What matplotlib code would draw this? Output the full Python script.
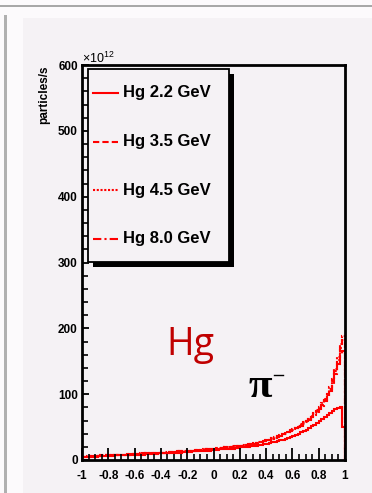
import matplotlib.pyplot as plt
import numpy as np
from matplotlib.lines import Line2D
from matplotlib.patches import Rectangle
from matplotlib.ticker import MultipleLocator

plt.rcParams["font.family"] = ["Liberation Sans", "DejaVu Sans"]
plt.rcParams["mathtext.fontset"] = "custom"
plt.rcParams["mathtext.rm"] = "Liberation Sans"

W, H = 372, 493
PANEL = "#f5f2f5"

# cos(theta) bins, 0.02 wide
edges = np.linspace(-1.0, 1.0, 101)

# pi- rates per bin (x10^12 particles/s)
hg_22 = [4, 5, 5, 5, 5, 5, 6, 6, 6, 6,
         6, 6, 7, 7, 7, 7, 7, 7, 8, 8,
         8, 8, 8, 8, 9, 9, 9, 9, 9, 10,
         10, 10, 10, 10, 11, 11, 11, 11, 12, 12,
         12, 12, 13, 13, 13, 13, 14, 14, 14, 15,
         15, 15, 16, 16, 16, 17, 17, 17, 18, 18,
         19, 19, 20, 20, 21, 21, 22, 23, 23, 24,
         25, 26, 27, 28, 29, 30, 31, 32, 34, 35,
         37, 38, 40, 42, 44, 46, 48, 51, 53, 56,
         59, 62, 65, 68, 71, 74, 77, 79, 81, 50]
hg_35 = [5, 5, 5, 6, 6, 6, 6, 6, 7, 7,
         7, 7, 7, 7, 8, 8, 8, 8, 8, 9,
         9, 9, 9, 9, 10, 10, 10, 10, 10, 11,
         11, 11, 11, 12, 12, 12, 12, 13, 13, 13,
         13, 14, 14, 14, 15, 15, 15, 16, 16, 16,
         17, 17, 18, 18, 19, 19, 20, 20, 21, 21,
         22, 22, 23, 24, 25, 25, 26, 27, 28, 29,
         30, 31, 33, 34, 36, 37, 39, 41, 43, 45,
         46, 48, 50, 53, 56, 59, 62, 66, 70, 74,
         78, 84, 91, 99, 108, 120, 135, 152, 170, 182]
hg_45 = [5, 5, 6, 6, 6, 6, 7, 6, 7, 7,
         7, 7, 8, 7, 8, 8, 8, 9, 8, 9,
         9, 9, 10, 9, 10, 10, 10, 11, 10, 11,
         11, 12, 11, 12, 12, 12, 13, 13, 13, 14,
         14, 14, 14, 15, 15, 15, 16, 16, 16, 17,
         17, 18, 18, 18, 19, 20, 20, 21, 21, 22,
         22, 23, 23, 24, 25, 26, 26, 27, 28, 30,
         30, 32, 33, 35, 36, 38, 39, 42, 43, 46,
         47, 49, 51, 54, 57, 60, 63, 67, 71, 76,
         80, 86, 93, 101, 111, 123, 138, 156, 176, 188]
hg_80 = [5, 5, 5, 6, 6, 6, 6, 7, 7, 7,
         7, 7, 7, 8, 8, 8, 8, 8, 9, 9,
         9, 9, 9, 10, 10, 10, 10, 10, 11, 11,
         11, 11, 12, 12, 12, 12, 13, 13, 13, 13,
         14, 14, 14, 15, 15, 15, 16, 16, 16, 17,
         17, 17, 18, 18, 19, 19, 20, 20, 21, 22,
         22, 23, 23, 24, 24, 25, 26, 27, 28, 29,
         30, 31, 32, 34, 35, 37, 38, 40, 42, 44,
         46, 48, 50, 52, 55, 58, 61, 65, 69, 73,
         77, 82, 89, 96, 105, 116, 130, 146, 160, 165]

series = [
    ("Hg 2.2 GeV", hg_22, "-"),
    ("Hg 3.5 GeV", hg_35, (0, (3, 1.5))),
    ("Hg 4.5 GeV", hg_45, (0, (1, 0.8))),
    ("Hg 8.0 GeV", hg_80, (0, (4, 1.5, 1, 1.5))),
]
xticklabels = ["-1", "-0.8", "-0.6", "-0.4", "-0.2", "0", "0.2", "0.4",
               "0.6", "0.8", "1"]


def fx(px):
    return px / W


def fy(py):
    return 1 - py / H


fig = plt.figure(figsize=(W / 100, H / 100), dpi=100, facecolor=PANEL)

# slide frame: white margins and grey rules
fig.patches.append(Rectangle((0, fy(18)), 1, 1, transform=fig.transFigure,
                             facecolor="#fcfafc", edgecolor="none", zorder=0))
fig.patches.append(Rectangle((0, 0), fx(23), 1, transform=fig.transFigure,
                             facecolor="#fcfafc", edgecolor="none", zorder=0))
fig.patches.append(Rectangle((0, fy(7)), 1, 2.5 / H, transform=fig.transFigure,
                             facecolor="#a8a8a8", edgecolor="none", zorder=1))
fig.patches.append(Rectangle((fx(4), 0), 2.5 / W, fy(15), transform=fig.transFigure,
                             facecolor="#b0b0b0", edgecolor="none", zorder=1))

ax = fig.add_axes([fx(82), fy(460), fx(345) - fx(82), fy(65) - fy(460)])
ax.set_facecolor(PANEL)

for label, vals, ls in series:
    ax.stairs(vals, edges, color="red", lw=1.5, linestyle=ls)

ax.set_xlim(-1, 1)
ax.set_ylim(0, 600)
ax.set_xticks(np.round(np.arange(-1, 1.01, 0.2), 1))
ax.set_xticklabels(xticklabels, fontweight="bold")
ax.xaxis.set_minor_locator(MultipleLocator(0.05))
ax.yaxis.set_major_locator(MultipleLocator(100))
ax.yaxis.set_minor_locator(MultipleLocator(20))
for t in ax.get_yticklabels():
    t.set_fontweight("bold")
ax.tick_params(axis="x", which="major", direction="in", length=9, width=1.3,
               labelsize=8.5, pad=7)
ax.tick_params(axis="x", which="minor", direction="in", length=4.5, width=1.2)
ax.tick_params(axis="y", which="major", direction="in", length=5, width=1.3,
               labelsize=8.5, pad=3)
ax.tick_params(axis="y", which="minor", direction="in", length=4, width=1.2)
for s in ax.spines.values():
    s.set_linewidth(2)

fig.text(fx(82), fy(58), r"$\mathregular{\times10^{12}}$", fontsize=9,
         ha="left", va="center")
fig.text(fx(44), fy(95), "particles/s", rotation=90, fontsize=8.5,
         fontweight="bold", ha="center", va="center")

# legend box with drop shadow
lx0, lx1, ly0, ly1 = 88, 229, 69, 262
fig.patches.append(Rectangle((fx(lx0 + 5), fy(ly1 + 5)), fx(lx1 - lx0), fy(ly0) - fy(ly1),
                             transform=fig.transFigure, facecolor="black",
                             edgecolor="none", zorder=5))
fig.patches.append(Rectangle((fx(lx0), fy(ly1)), fx(lx1 - lx0), fy(ly0) - fy(ly1),
                             transform=fig.transFigure, facecolor=PANEL,
                             edgecolor="black", lw=1.3, zorder=6))
for i, (label, vals, ls) in enumerate(series):
    yy = fy(93 + i * 48.5)
    fig.lines.append(Line2D([fx(93), fx(118)], [yy, yy], transform=fig.transFigure,
                            color="red", lw=1.5, linestyle=ls, zorder=7))
    fig.text(fx(123), yy, label, fontsize=12, fontweight="bold",
             ha="left", va="center", zorder=7)

fig.text(fx(166), fy(355), "Hg", fontsize=27, color="#c00000",
         family=["Open Sans", "DejaVu Sans"], ha="left", va="baseline")
fig.text(fx(249), fy(397), "π", fontsize=31, fontweight="bold",
         family=["Liberation Serif", "DejaVu Serif"], ha="left", va="baseline")
fig.lines.append(Line2D([fx(274), fx(283)], [fy(375), fy(375)],
                        transform=fig.transFigure, color="black", lw=1))

fig.savefig("out.png", dpi=100, facecolor=fig.get_facecolor())
